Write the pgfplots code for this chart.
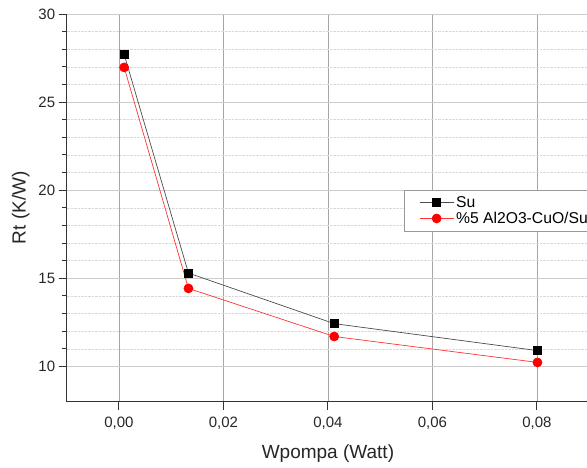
\documentclass[border=0pt]{standalone}
\usepackage{pgfplots}
\pgfplotsset{compat=1.18}
\usepackage{fontspec}
\setmainfont{Liberation Sans}
\pgfplotsset{longleg/.style={legend image code/.code={\path (-0.45cm,0cm); \draw[mark repeat=2,mark phase=2] plot coordinates {(0cm,0cm)(0.6cm,0cm)(1.2cm,0cm)};}}}
\begin{document}
\begin{tikzpicture}
\begin{axis}[
  at={(0,0)}, anchor=south west,
  scale only axis, width=522.5pt, height=387.7pt,
  xmin=-0.01, xmax=0.09, ymin=8, ymax=30,
  axis x line=bottom, axis y line=left,
  axis line style={-, line width=1.2pt, color=black!80},
  xtick={0,0.02,0.04,0.06,0.08},
  ytick={10,15,20,25,30},
  minor y tick num=4,
  scaled x ticks=false,
  tick align=outside,
  major tick length=8pt, minor tick length=5pt,
  every tick/.style={black!80, line width=1pt},
  xmajorgrids, ymajorgrids, yminorgrids,
  x grid style={gray!70, line width=0.7pt},
  major grid style={gray!40, line width=0.9pt},
  minor grid style={densely dotted, gray!30, line width=0.6pt},
  /pgf/number format/assume math mode=true,
  xticklabel style={yshift=-4pt, /pgf/number format/.cd, fixed, fixed zerofill, precision=2, use comma},
  tick label style={font=\fontsize{15}{18}\selectfont, text=black!85},
  label style={font=\fontsize{19}{22}\selectfont, text=black!85},
  xlabel={Wpompa (Watt)}, ylabel={Rt (K/W)},
  xlabel style={at={(axis description cs:0.5,-0.134)}, anchor=center},
  ylabel style={at={(axis description cs:-0.088,0.5)}, anchor=center},
  legend style={at={(0.6456,0.5456)}, anchor=north west, draw=gray!80, line width=0.8pt,
    font=\fontsize{15.7}{18}\selectfont, cells={anchor=west}, inner xsep=2pt, inner ysep=4pt, row sep=-1pt},
]
\addplot[color=black!70, line width=0.7pt, mark=square*, mark size=4pt, mark options={black, solid}, longleg]
  coordinates {(0.001,27.7)(0.0133,15.3)(0.0412,12.43)(0.0801,10.9)};
\addlegendentry{Su}
\addplot[color=red!80, line width=0.7pt, mark=*, mark size=4.5pt, mark options={red, solid}, longleg]
  coordinates {(0.001,26.97)(0.0133,14.43)(0.0412,11.7)(0.0801,10.23)};
\addlegendentry{\%5 Al2O3-CuO/Su}
\end{axis}
\pgfresetboundingbox
\path[use as bounding box] (-66.7pt,-65.3pt) rectangle (520.3pt,401.7pt);
\end{tikzpicture}
\end{document}
